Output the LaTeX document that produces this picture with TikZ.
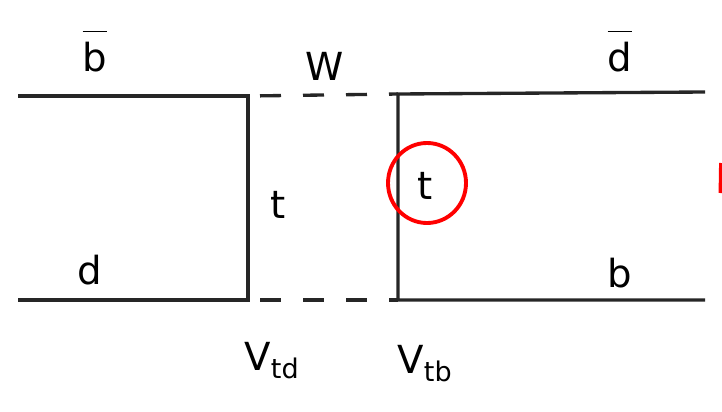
\documentclass[tikz,border=0pt]{standalone}
\usepackage{fontspec}
\setsansfont{DejaVu Sans}
\usetikzlibrary{positioning}

\newcommand{\antiq}[1]{$\overline{\mbox{\raisebox{0pt}[0.98em]{#1}}}$}

\begin{document}
\begin{tikzpicture}[every node/.style={font=\sffamily\fontsize{22}{26}\selectfont},
  quark/.style={line width=1.9pt,black!85},
  boson/.style={line width=1.9pt,black!85,dash pattern=on 0.42cm off 0.44cm,dash phase=0.62cm},
  redmark/.style={draw=red,line width=2.2pt}]
  \useasboundingbox (0,0) rectangle (14.44,8.22);
  % corners of the box
  \coordinate (tl) at (0.36,6.30);
  \coordinate (vtl) at (4.96,6.30);
  \coordinate (vtr) at (7.96,6.34);
  \coordinate (tr) at (14.10,6.38);
  \coordinate (bl) at (0.36,2.22);
  \coordinate (vbl) at (4.96,2.22);
  \coordinate (vbr) at (7.96,2.22);
  \coordinate (br) at (14.10,2.22);
  \draw[quark] (tl) -- (vtl) -- (vbl) -- (bl);
  \draw[quark] (tr) -- (vtr) -- (vbr) -- (br);
  \draw[boson] (vtl) -- (vtr);
  \draw[boson] (vbl) -- (vbr);
  % labels
  \node (bbar) at (1.9,7.2) {\antiq{b}};
  \node (wup) at (6.5,6.9) {W};
  \node (dbar) at (12.4,7.2) {\antiq{d}};
  \node (tleft) at (5.56,4.12) {t};
  \node (tright) at (8.5,4.5) {t};
  \draw[redmark] (8.54,4.56) circle[x radius=0.78cm,y radius=0.8cm];
  \node (dlow) at (1.8,2.82) {d};
  \node (blow) at (12.4,2.75) {b};
  \node (vtd) at (5.44,1.0) {V$_{\mathsf{td}}$};
  \node (vtb) at (8.5,0.95) {V$_{\mathsf{tb}}$};
  \draw[redmark] (14.41,4.36) -- (14.42,4.96);
\end{tikzpicture}
\end{document}
